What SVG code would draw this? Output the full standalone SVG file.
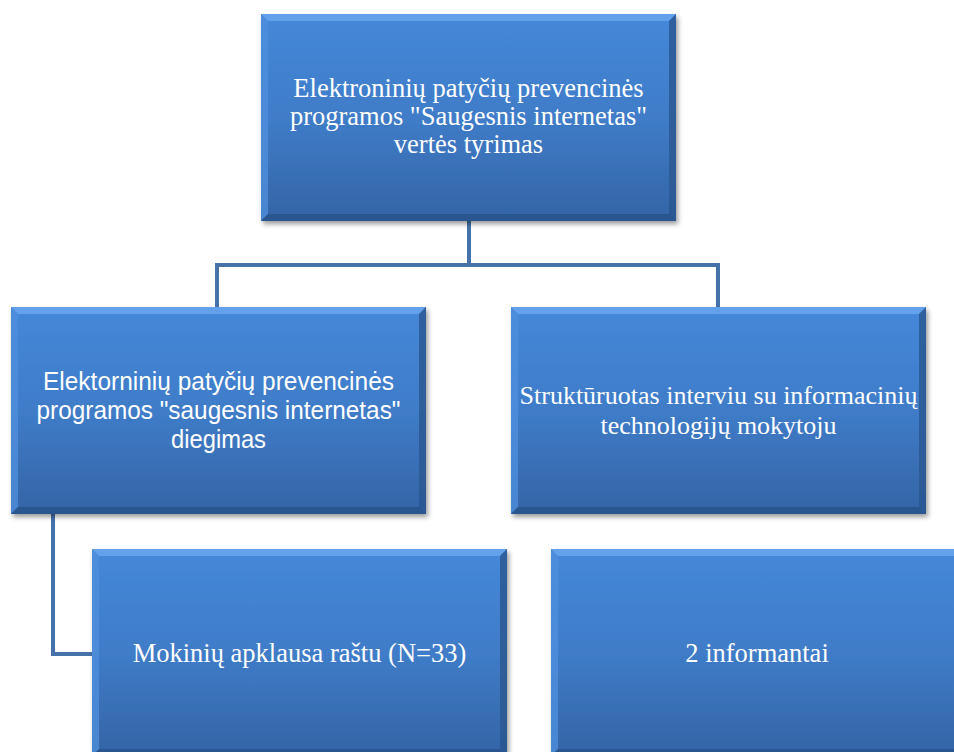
<svg xmlns="http://www.w3.org/2000/svg" width="954" height="752" viewBox="0 0 954 752">
<style>
.serif{font-family:"Liberation Serif","Times New Roman",serif;font-size:26.5px;fill:#ffffff;text-anchor:middle}
.sans{font-family:"Liberation Sans",Arial,sans-serif;font-size:26.5px;fill:#ffffff;text-anchor:middle}
.conn{fill:none;stroke:#4672aa;stroke-width:4}
</style>
<defs>
<linearGradient id="g" x1="0" y1="0" x2="0" y2="1">
<stop offset="0" stop-color="#4588d9"/>
<stop offset="0.5" stop-color="#3f7cc8"/>
<stop offset="1" stop-color="#3464a6"/>
</linearGradient>
<filter id="sh" x="-5%" y="-5%" width="115%" height="115%">
<feDropShadow dx="2" dy="3" stdDeviation="2.5" flood-color="#000" flood-opacity="0.4"/>
</filter>
<symbol id="box" width="415" height="207" viewBox="0 0 415 207" overflow="visible">
<rect x="0" y="0" width="415" height="207" fill="url(#g)"/>
<polygon points="0,0 415,0 408,7 7,7" fill="#6aa6ee" opacity="0.85"/>
<polygon points="0,0 7,7 7,200 0,207" fill="#4f8fdc" opacity="0.8"/>
<polygon points="415,0 415,207 408,200 408,7" fill="#2b5690" opacity="0.8"/>
<polygon points="0,207 415,207 408,200 7,200" fill="#29538c" opacity="0.85"/>
</symbol>
</defs>
<rect width="954" height="752" fill="#ffffff"/>
<g id="connectors">
<path class="conn" d="M469 221 V265"/>
<path class="conn" d="M217 308 V265 H718 V308"/>
<path class="conn" d="M53 514 V654 H92"/>
</g>
<g id="top">
<use href="#box" x="261" y="14" width="415" height="207" filter="url(#sh)"/>
<text class="serif" x="468.5" y="97">Elektroninių patyčių prevencinės</text>
<text class="serif" x="468.5" y="125">programos "Saugesnis internetas"</text>
<text class="serif" x="468.5" y="153">vertės tyrimas</text>
</g>
<g id="left">
<use href="#box" x="11" y="307" width="415" height="207" filter="url(#sh)"/>
<text class="sans" x="218.5" y="390" textLength="351" lengthAdjust="spacingAndGlyphs">Elektorninių patyčių prevencinės</text>
<text class="sans" x="218.5" y="419" textLength="364" lengthAdjust="spacingAndGlyphs">programos "saugesnis internetas"</text>
<text class="sans" x="218.5" y="448" textLength="95" lengthAdjust="spacingAndGlyphs">diegimas</text>
</g>
<g id="right">
<use href="#box" x="511" y="307" width="415" height="207" filter="url(#sh)"/>
<text class="serif" x="718.5" y="404" style="font-size:26px">Struktūruotas interviu su informacinių</text>
<text class="serif" x="718.5" y="434" style="font-size:26px">technologijų mokytoju</text>
</g>
<g id="bottomLeft">
<use href="#box" x="92" y="549" width="415" height="207" filter="url(#sh)"/>
<text class="serif" x="299.5" y="662">Mokinių apklausa raštu (N=33)</text>
</g>
<g id="bottomRight">
<use href="#box" x="551" y="549" width="415" height="207" filter="url(#sh)"/>
<text class="serif" x="757" y="662">2 informantai</text>
</g>
</svg>
